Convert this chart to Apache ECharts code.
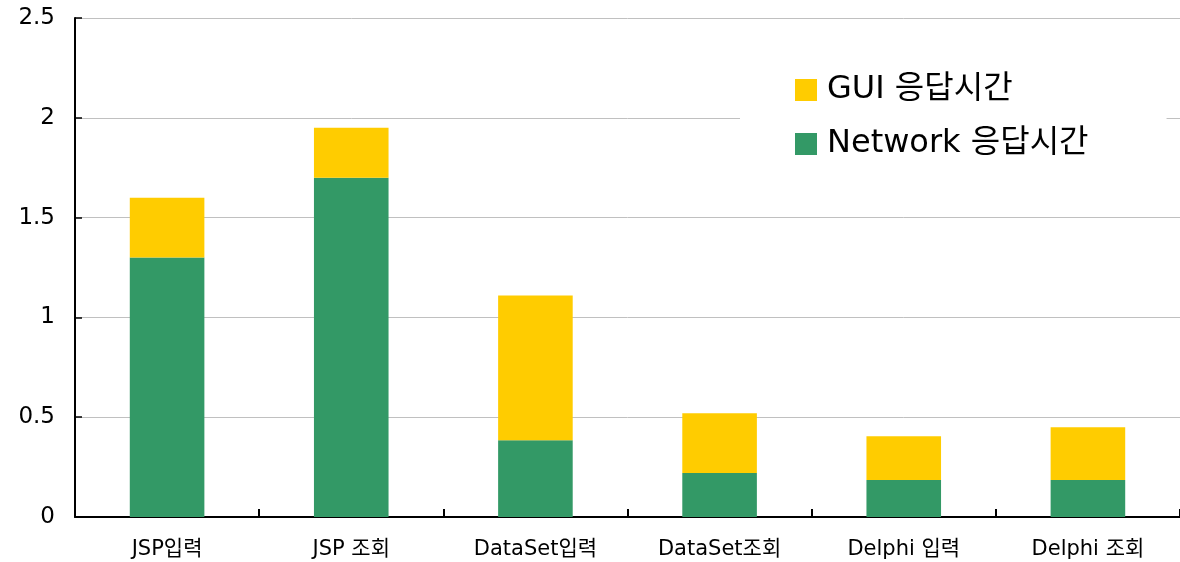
<!DOCTYPE html>
<html><head><meta charset="utf-8">
<script src="https://cdn.jsdelivr.net/npm/echarts@6/dist/echarts.min.js"></script>
<style>html,body{margin:0;padding:0;background:#fff}#c{width:1180px;height:562px}</style>
</head><body><div id="c"></div>
<script>
const categories = ['JSP입력', 'JSP 조회', 'DataSet입력', 'DataSet조회', 'Delphi 입력', 'Delphi 조회'];
const networkTime = [1.30, 1.70, 0.385, 0.22, 0.185, 0.185];
const guiTime = [0.30, 0.25, 0.725, 0.30, 0.22, 0.265];
const yTicks = [0, 0.5, 1, 1.5, 2, 2.5];

const chart = echarts.init(document.getElementById('c'));
const font = "'DejaVu Sans', 'Noto Sans CJK KR', sans-serif";
chart.setOption({
  animation: false,
  textStyle: { fontFamily: font },
  grid: { left: 75, top: 18, bottom: 45, width: 1110 },
  legend: {
    data: ['GUI 응답시간', 'Network 응답시간'],
    orient: 'vertical',
    left: 740, top: 59,
    padding: [15, 78, 15, 55],
    backgroundColor: '#fff',
    itemWidth: 22, itemHeight: 22, itemGap: 22,
    icon: 'rect',
    textStyle: { fontSize: 32, lineHeight: 32, color: '#000', fontFamily: font, padding: [0, 0, 0, 5] }
  },
  xAxis: {
    type: 'category', data: categories,
    axisLine: { lineStyle: { color: '#000', width: 2 } },
    axisTick: { show: true, inside: true, length: 8, lineStyle: { color: '#000', width: 2 } },
    axisLabel: { color: '#000', fontSize: 21, margin: 22 }
  },
  yAxis: {
    type: 'value', min: 0, max: 2.5, interval: 0.5,
    axisLine: { show: true, lineStyle: { color: '#000', width: 2 } },
    axisTick: { show: true, inside: true, length: 7, lineStyle: { color: '#000', width: 1.5 } },
    axisLabel: { color: '#000', fontSize: 23, margin: 20, formatter: v => yTicks.includes(v) ? String(v) : '' },
    splitLine: { lineStyle: { color: '#c0c0c0', width: 1 } }
  },
  series: [
    { name: 'Network 응답시간', type: 'bar', stack: 's', data: networkTime, barWidth: '40.5%', itemStyle: { color: '#339966' } },
    { name: 'GUI 응답시간', type: 'bar', stack: 's', data: guiTime, itemStyle: { color: '#FFCC00' } }
  ]
});
</script></body></html>
